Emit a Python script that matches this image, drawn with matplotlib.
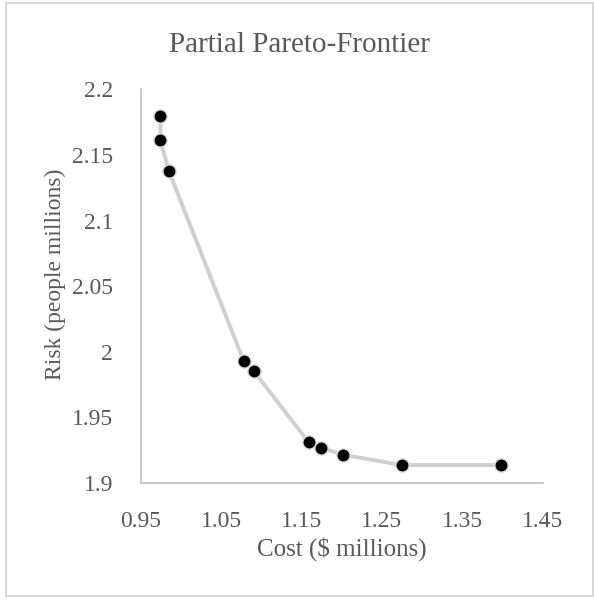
import matplotlib
matplotlib.use("Agg")
import matplotlib.pyplot as plt
from matplotlib.patches import Rectangle

cost = [0.9745, 0.9745, 0.985, 1.078, 1.091, 1.159, 1.174, 1.202, 1.2745, 1.398]
risk = [2.180, 2.161, 2.1377, 1.993, 1.985, 1.931, 1.927, 1.9215, 1.9137, 1.9137]

x_ticks = [0.95, 1.05, 1.15, 1.25, 1.35, 1.45]
y_ticks = [1.9, 1.95, 2.0, 2.05, 2.1, 2.15, 2.2]
y_tick_labels = ["1.9", "1.95", "2", "2.05", "2.1", "2.15", "2.2"]

text_col = "#595959"
plt.rcParams["font.family"] = ["Liberation Serif", "DejaVu Serif"]

fig = plt.figure(figsize=(5.94, 6.01), dpi=100)
ax = fig.add_axes([140.7 / 594, 1 - 483 / 601, 402 / 594, 393.7 / 601])

# chart border
fig.patches.append(Rectangle((6 / 594, 1 - 595.5 / 601), 586.5 / 594, 593 / 601,
                             transform=fig.transFigure, fill=False,
                             edgecolor="#d9d9d9", linewidth=1.5))

ax.plot(cost, risk, "-", color="#d0d0d0", linewidth=2.8, zorder=2)
ax.plot(cost, risk, "o", color="black", markersize=9.5,
        markeredgecolor="#d9d9d9", markeredgewidth=1.0, zorder=3)

ax.set_xlim(0.95, 1.45)
ax.set_ylim(1.9, 2.2)
ax.set_xticks(x_ticks)
ax.set_xticklabels([f"{v:.2f}" for v in x_ticks])
ax.set_yticks(y_ticks)
ax.set_yticklabels(y_tick_labels)
ax.tick_params(length=0, labelsize=17, labelcolor=text_col, pad=20)

for side in ["top", "right"]:
    ax.spines[side].set_visible(False)
for side in ["left", "bottom"]:
    ax.spines[side].set_color("#bfbfbf")
    ax.spines[side].set_linewidth(1.2)

fig.text(299 / 594, 1 - 52 / 601, "Partial Pareto-Frontier", ha="center", va="baseline",
         fontsize=21, color=text_col)
fig.text(341.7 / 594, 1 - 549 / 601, "Cost ($ millions)", ha="center", va="center",
         fontsize=18, color=text_col)
fig.text(55 / 594, 1 - 274 / 601, "Risk (people millions)", ha="center", va="center",
         rotation=90, fontsize=17, color=text_col)

fig.savefig("out.png", dpi=100)
